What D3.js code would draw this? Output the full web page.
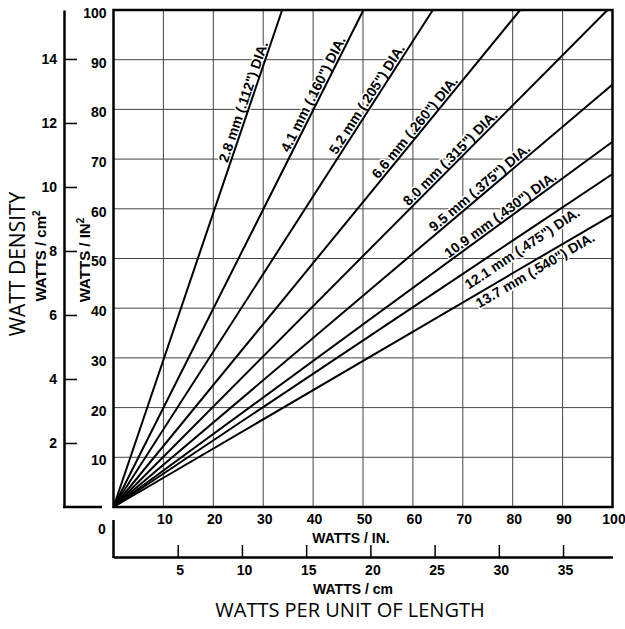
<!DOCTYPE html>
<html>
<head>
<meta charset="utf-8">
<script src="https://cdn.jsdelivr.net/npm/d3@7"></script>
<style>
  body { margin: 0; background: #fff; }
  svg { display: block; }
  .bold { font-family: "Liberation Sans", Arial, sans-serif; font-weight: bold; }
  .title { font-family: "Open Sans", sans-serif; }
</style>
</head>
<body>
<svg width="625" height="629"></svg>
<script>
// diameters and where each line leaves the plot (W/in, W/in2)
const sizes = ['2.8 mm (.112") DIA.', '4.1 mm (.160") DIA.', '5.2 mm (.205") DIA.',
  '6.6 mm (.260") DIA.', '8.0 mm (.315") DIA.', '9.5 mm (.375") DIA.',
  '10.9 mm (.430") DIA.', '12.1 mm (.475") DIA.', '13.7 mm (.540") DIA.'];
const endX = [33.8, 50.1, 64, 81.5, 99, 100, 100, 100, 100];
const endY = [100, 100, 100, 100, 100, 85, 73.5, 67, 58.8];
// where along each line (W/in) its label sits
const labelAt = [27.4, 41.3, 52, 61.5, 68.5, 74.3, 78.4, 80.6, 83.6];

const inchTicks = [10, 20, 30, 40, 50, 60, 70, 80, 90, 100];
const cmTicks = [5, 10, 15, 20, 25, 30, 35];
const cm2Ticks = [2, 4, 6, 8, 10, 12, 14];

const svg = d3.select('svg');

const x = d3.scaleLinear().domain([0, 100]).range([113.5, 612.5]);
const y = d3.scaleLinear().domain([0, 100]).range([507, 10]);
const xCm = d3.scaleLinear().domain([0, 38.85]).range([113.5, 612.5]);
const yCm2 = d3.scaleLinear().domain([0, 15.53]).range([507, 10]);

// grid
const grid = svg.append('g').attr('stroke', '#444').attr('stroke-width', 1);
grid.selectAll('.gx').data(inchTicks.slice(0, -1)).enter().append('line')
  .attr('x1', d => x(d)).attr('x2', d => x(d))
  .attr('y1', y(0)).attr('y2', y(100));
grid.selectAll('.gy').data(inchTicks.slice(0, -1)).enter().append('line')
  .attr('y1', d => y(d)).attr('y2', d => y(d))
  .attr('x1', x(0)).attr('x2', x(100));

// line labels, with a white halo that breaks the grid
const lines = sizes.map((s, i) => ({ name: s, ex: endX[i], ey: endY[i], at: labelAt[i], i: i }));

svg.append('g').selectAll('text').data(lines).enter().append('text')
  .attr('class', 'bold')
  .attr('font-size', 14)
  .attr('text-anchor', 'middle')
  .attr('dominant-baseline', 'central')
  .attr('stroke', '#fff').attr('stroke-width', 3).attr('paint-order', 'stroke')
  .attr('transform', d => {
    const px = x(d.at), py = y(d.at * d.ey / d.ex);
    const a = Math.atan2(y(d.ey) - y(0), x(d.ex) - x(0)) * 180 / Math.PI;
    return 'translate(' + px + ',' + py + ') rotate(' + a + ')';
  })
  .attr('y', d => d.i >= 7 ? (d.i == 7 ? 11.5 : 8.5) : -7.5)
  .text(d => d.name);

// the lines themselves
svg.append('g').selectAll('line').data(lines).enter().append('line')
  .attr('x1', x(0)).attr('y1', y(0))
  .attr('x2', d => x(d.ex)).attr('y2', d => y(d.ey))
  .attr('stroke', '#000').attr('stroke-width', 2);

// frame
svg.append('rect')
  .attr('x', x(0)).attr('y', y(100))
  .attr('width', x(100) - x(0)).attr('height', y(0) - y(100))
  .attr('fill', 'none').attr('stroke', '#000').attr('stroke-width', 2.5);

// inner axis W/in2
const yAx = svg.append('g').attr('transform', 'translate(' + (x(0) - 1) + ',3)')
  .call(d3.axisLeft(y).tickValues(inchTicks).tickSize(0).tickPadding(6));
yAx.select('.domain').remove();

// outer axis W/cm2
const cAx = svg.append('g').attr('transform', 'translate(64,0)')
  .call(d3.axisLeft(yCm2).tickValues(cm2Ticks).tickSizeInner(-13).tickSizeOuter(0).tickPadding(7));
cAx.select('.domain').attr('stroke-width', 2.5);
cAx.selectAll('.tick line').attr('stroke-width', 1.5);
svg.append('line').attr('x1', 63).attr('x2', 102).attr('y1', y(0)).attr('y2', y(0))
  .attr('stroke', '#000').attr('stroke-width', 2.5);

// bottom axis W/in
const xAx = svg.append('g').attr('transform', 'translate(1,' + y(0) + ')')
  .call(d3.axisBottom(x).tickValues(inchTicks).tickSize(0).tickPadding(7));
xAx.select('.domain').remove();

// bottom axis W/cm
const cmAx = svg.append('g').attr('transform', 'translate(0,557)')
  .call(d3.axisBottom(xCm).tickValues(cmTicks).tickSizeInner(-12).tickSizeOuter(0).tickPadding(8));
cmAx.select('.domain').attr('stroke-width', 2.5);
cmAx.selectAll('.tick line').attr('stroke-width', 1.5);
cmAx.selectAll('.tick text').attr('dx', 2);
svg.append('line').attr('x1', x(0)).attr('x2', x(0)).attr('y1', 520).attr('y2', 558)
  .attr('stroke', '#000').attr('stroke-width', 2.5);

svg.selectAll('.tick text').attr('class', 'bold').attr('font-size', 14)
  .attr('font-family', null).attr('fill', '#000');

svg.append('text').attr('class', 'bold').attr('font-size', 14)
  .attr('x', 102).attr('y', 534).attr('text-anchor', 'middle').text('0');

// axis names
svg.append('text').attr('class', 'bold').attr('font-size', 14)
  .attr('x', 351).attr('y', 543).attr('text-anchor', 'middle').text('WATTS / IN.');
svg.append('text').attr('class', 'bold').attr('font-size', 14)
  .attr('x', 353).attr('y', 594).attr('text-anchor', 'middle').text('WATTS / cm');

const cm2 = svg.append('text').attr('class', 'bold').attr('font-size', 15)
  .attr('text-anchor', 'middle')
  .attr('transform', 'translate(46,256) rotate(-90)');
cm2.append('tspan').text('WATTS / cm');
cm2.append('tspan').attr('font-size', 10).attr('dy', -6).text('2');

const in2 = svg.append('text').attr('class', 'bold').attr('font-size', 15)
  .attr('text-anchor', 'middle')
  .attr('transform', 'translate(90,260) rotate(-90)');
in2.append('tspan').text('WATTS / IN');
in2.append('tspan').attr('font-size', 10).attr('dy', -6).text('2');

svg.append('text').attr('class', 'title').attr('font-size', 21)
  .attr('text-anchor', 'middle')
  .attr('transform', 'translate(25,264) rotate(-90)')
  .text('WATT DENSITY');

svg.append('text').attr('class', 'title').attr('font-size', 20)
  .attr('x', 350).attr('y', 617).attr('text-anchor', 'middle')
  .text('WATTS PER UNIT OF LENGTH');
</script>
</body>
</html>
